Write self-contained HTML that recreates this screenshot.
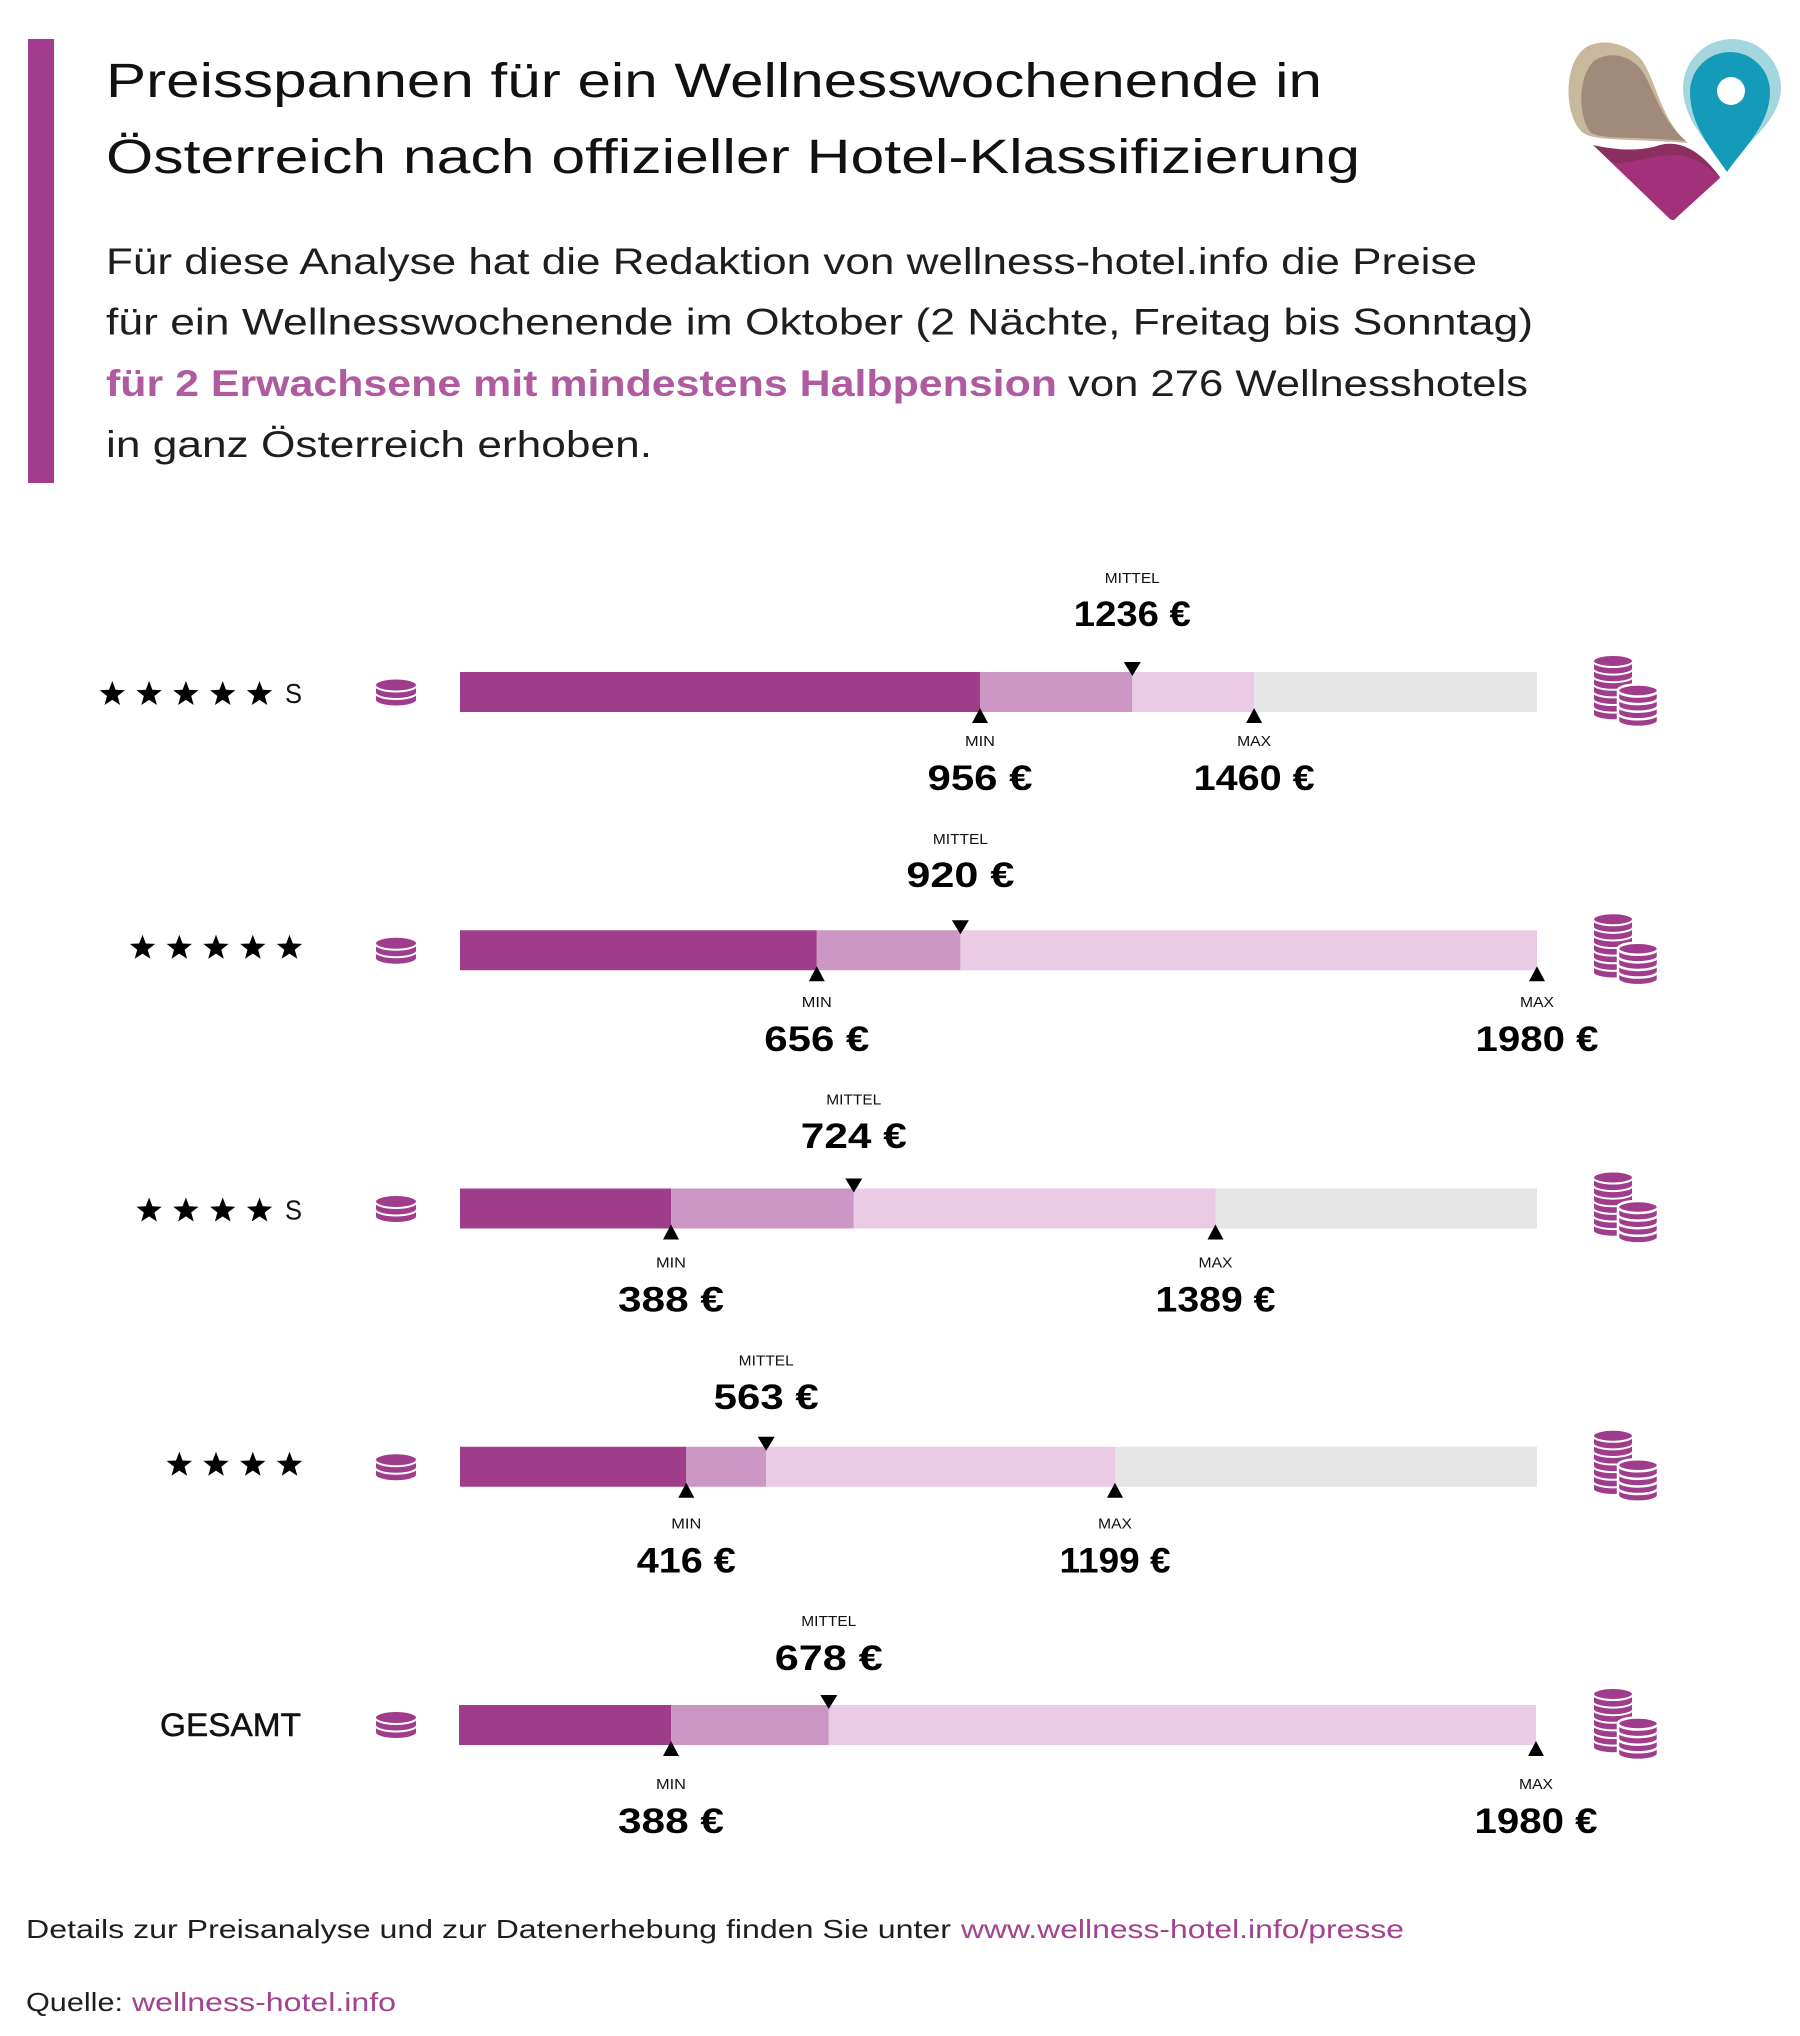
<!DOCTYPE html>
<html>
<head>
<meta charset="utf-8">
<style>
html,body{margin:0;padding:0;background:#fff;}
svg{display:block;}
text{font-family:"Liberation Sans",sans-serif;}
</style>
</head>
<body>
<svg width="1800" height="2036" viewBox="0 0 1800 2036" xmlns="http://www.w3.org/2000/svg">
<defs>
  <polygon id="star" points="0,-13.3 3.3,-4.5 12.65,-4.1 5.3,1.75 7.8,10.75 0,5.6 -7.8,10.75 -5.3,1.75 -12.65,-4.1 -3.3,-4.5" fill="#000"/>
  <g id="coin1" fill="#a03c8c" stroke="#fff" stroke-width="2">
    <path d="M0,14 L0,21.5 A21 6.5 0 0 0 42,21.5 L42,14 A21 6.5 0 0 0 0,14 Z"/>
    <path d="M0,6.5 L0,14 A21 6.5 0 0 0 42,14 L42,6.5 A21 6.5 0 0 0 0,6.5 Z"/>
    <ellipse cx="21" cy="6.5" rx="21" ry="6.5"/>
  </g>
  <g id="coins" fill="#a03c8c" stroke="#fff" stroke-width="2">
    <path d="M0,51.6 L0,59.2 A20 6 0 0 0 40,59.2 L40,51.6 A20 6 0 0 0 0,51.6 Z"/>
    <path d="M0,44 L0,51.6 A20 6 0 0 0 40,51.6 L40,44 A20 6 0 0 0 0,44 Z"/>
    <path d="M0,36.4 L0,44 A20 6 0 0 0 40,44 L40,36.4 A20 6 0 0 0 0,36.4 Z"/>
    <path d="M0,28.8 L0,36.4 A20 6 0 0 0 40,36.4 L40,28.8 A20 6 0 0 0 0,28.8 Z"/>
    <path d="M0,21.2 L0,28.8 A20 6 0 0 0 40,28.8 L40,21.2 A20 6 0 0 0 0,21.2 Z"/>
    <path d="M0,13.6 L0,21.2 A20 6 0 0 0 40,21.2 L40,13.6 A20 6 0 0 0 0,13.6 Z"/>
    <path d="M0,6 L0,13.6 A20 6 0 0 0 40,13.6 L40,6 A20 6 0 0 0 0,6 Z"/>
    <ellipse cx="20" cy="6" rx="20" ry="6"/>
    <g stroke-width="2.5">
    <path d="M25,58.3 L25,65.9 A20 6 0 0 0 65,65.9 L65,58.3 A20 6 0 0 0 25,58.3 Z"/>
    <path d="M25,50.7 L25,58.3 A20 6 0 0 0 65,58.3 L65,50.7 A20 6 0 0 0 25,50.7 Z"/>
    <path d="M25,43.1 L25,50.7 A20 6 0 0 0 65,50.7 L65,43.1 A20 6 0 0 0 25,43.1 Z"/>
    <path d="M25,35.5 L25,43.1 A20 6 0 0 0 65,43.1 L65,35.5 A20 6 0 0 0 25,35.5 Z"/>
    <ellipse cx="45" cy="35.5" rx="20" ry="6"/>
    </g>
  </g>
</defs>

<rect x="0" y="0" width="1800" height="2036" fill="#fff"/>

<!-- side bar -->
<rect x="28" y="39" width="26" height="444" fill="#a23c8c"/>

<!-- title -->
<text x="106" y="97" font-size="48" fill="#111" textLength="1216" lengthAdjust="spacingAndGlyphs">Preisspannen für ein Wellnesswochenende in</text>
<text x="106" y="173" font-size="48" fill="#111" textLength="1254" lengthAdjust="spacingAndGlyphs">Österreich nach offizieller Hotel-Klassifizierung</text>

<!-- paragraph -->
<text x="106" y="274" font-size="37" fill="#1e1e1e" textLength="1371" lengthAdjust="spacingAndGlyphs">Für diese Analyse hat die Redaktion von wellness-hotel.info die Preise</text>
<text x="106" y="334.5" font-size="37" fill="#1e1e1e" textLength="1427" lengthAdjust="spacingAndGlyphs">für ein Wellnesswochenende im Oktober (2 Nächte, Freitag bis Sonntag)</text>
<text x="106" y="396" font-size="37" font-weight="bold" fill="#b05aa0" textLength="951" lengthAdjust="spacingAndGlyphs">für 2 Erwachsene mit mindestens Halbpension</text>
<text x="1068" y="396" font-size="37" fill="#1e1e1e" textLength="460" lengthAdjust="spacingAndGlyphs">von 276 Wellnesshotels</text>
<text x="106" y="457" font-size="37" fill="#1e1e1e" textLength="546" lengthAdjust="spacingAndGlyphs">in ganz Österreich erhoben.</text>

<!-- logo -->
<g>
  <path d="M1688,143 C1660,120 1655,75 1640,58 C1625,42 1600,38 1585,48 C1565,62 1563,110 1580,130 C1590,142 1620,138 1688,143 Z" fill="#c9b99c"/>
  <path d="M1686,141 C1658,118 1652,80 1638,66 C1625,53 1605,52 1593,62 C1578,78 1578,115 1590,132 C1600,140 1630,136 1686,141 Z" fill="#a28a7a"/>
  <path d="M1593,145 C1615,150 1640,152 1660,145 C1680,140 1700,150 1720,177 L1676,218 Q1673,222 1669,218 Z" fill="#8a2f5e"/>
  <path d="M1612,163 C1630,165 1650,155 1675,155 C1695,155 1710,168 1720,178 L1676,218 Q1673,222 1669,218 Z" fill="#a3317a"/>
  <path d="M1725,168 C1710,145 1683,120 1683,88 A49,49 0 0 1 1781,88 C1781,120 1745,145 1725,168 Z" fill="#a4d6dd"/>
  <path d="M1727,172 C1712,150 1690,125 1690,92 A40,40 0 0 1 1770,92 C1770,125 1742,150 1727,172 Z" fill="#139bb9"/>
  <circle cx="1731" cy="91" r="14" fill="#fff"/>
</g>

<!-- ROW 1: 5 stars S, T=672 -->
<g>
  <use href="#star" x="112.3" y="694.3"/><use href="#star" x="149.1" y="694.3"/><use href="#star" x="185.9" y="694.3"/><use href="#star" x="222.7" y="694.3"/><use href="#star" x="259.5" y="694.3"/>
  <text x="285" y="703" font-size="28" fill="#111" textLength="17" lengthAdjust="spacingAndGlyphs">S</text>
  <use href="#coin1" x="375" y="678.5"/>
  <rect x="460" y="672" width="520" height="40" fill="#a03d8a"/>
  <rect x="980" y="672" width="152.3" height="40" fill="#cc96c5"/>
  <rect x="1132.3" y="672" width="121.8" height="40" fill="#ebcbe3"/>
  <rect x="1254.1" y="672" width="282.9" height="40" fill="#e6e6e6"/>
  <polygon points="1123.8,662 1140.8,662 1132.3,676" fill="#000"/>
  <polygon points="980,708 972,723 988,723" fill="#000"/>
  <polygon points="1254.1,708 1246.1,723 1262.1,723" fill="#000"/>
  <text x="1132.3" y="583" font-size="15" fill="#111" text-anchor="middle" textLength="55" lengthAdjust="spacingAndGlyphs">MITTEL</text>
  <text x="1132.3" y="626" font-size="35" font-weight="bold" fill="#000" text-anchor="middle" textLength="117" lengthAdjust="spacingAndGlyphs">1236 €</text>
  <text x="980" y="746" font-size="15" fill="#111" text-anchor="middle" textLength="30" lengthAdjust="spacingAndGlyphs">MIN</text>
  <text x="980" y="790" font-size="35" font-weight="bold" fill="#000" text-anchor="middle" textLength="105" lengthAdjust="spacingAndGlyphs">956 €</text>
  <text x="1254.1" y="746" font-size="15" fill="#111" text-anchor="middle" textLength="34" lengthAdjust="spacingAndGlyphs">MAX</text>
  <text x="1254.1" y="790" font-size="35" font-weight="bold" fill="#000" text-anchor="middle" textLength="121" lengthAdjust="spacingAndGlyphs">1460 €</text>
  <use href="#coins" x="1593" y="655"/>
</g>

<!-- ROW 2: 5 stars, T=930.25 -->
<g>
  <use href="#star" x="142.5" y="948"/><use href="#star" x="179.3" y="948"/><use href="#star" x="216" y="948"/><use href="#star" x="252.8" y="948"/><use href="#star" x="289.5" y="948"/>
  <use href="#coin1" x="375" y="936.75"/>
  <rect x="460" y="930.25" width="356.8" height="40" fill="#a03d8a"/>
  <rect x="816.8" y="930.25" width="143.6" height="40" fill="#cc96c5"/>
  <rect x="960.4" y="930.25" width="576.6" height="40" fill="#ebcbe3"/>
  <polygon points="951.9,920.25 968.9,920.25 960.4,934.25" fill="#000"/>
  <polygon points="816.8,966.25 808.8,981.25 824.8,981.25" fill="#000"/>
  <polygon points="1537,966.25 1529,981.25 1545,981.25" fill="#000"/>
  <text x="960.4" y="843.8" font-size="15" fill="#111" text-anchor="middle" textLength="55" lengthAdjust="spacingAndGlyphs">MITTEL</text>
  <text x="960.4" y="887" font-size="35" font-weight="bold" fill="#000" text-anchor="middle" textLength="108" lengthAdjust="spacingAndGlyphs">920 €</text>
  <text x="816.8" y="1006.75" font-size="15" fill="#111" text-anchor="middle" textLength="30" lengthAdjust="spacingAndGlyphs">MIN</text>
  <text x="816.8" y="1050.75" font-size="35" font-weight="bold" fill="#000" text-anchor="middle" textLength="105" lengthAdjust="spacingAndGlyphs">656 €</text>
  <text x="1537" y="1006.75" font-size="15" fill="#111" text-anchor="middle" textLength="34" lengthAdjust="spacingAndGlyphs">MAX</text>
  <text x="1537" y="1050.75" font-size="35" font-weight="bold" fill="#000" text-anchor="middle" textLength="123" lengthAdjust="spacingAndGlyphs">1980 €</text>
  <use href="#coins" x="1593" y="913.25"/>
</g>

<!-- ROW 3: 4 stars S, T=1188.5 -->
<g>
  <use href="#star" x="149.1" y="1210.8"/><use href="#star" x="185.9" y="1210.8"/><use href="#star" x="222.7" y="1210.8"/><use href="#star" x="259.5" y="1210.8"/>
  <text x="285" y="1219.5" font-size="28" fill="#111" textLength="17" lengthAdjust="spacingAndGlyphs">S</text>
  <use href="#coin1" x="375" y="1195"/>
  <rect x="460" y="1188.5" width="211" height="40" fill="#a03d8a"/>
  <rect x="671" y="1188.5" width="182.8" height="40" fill="#cc96c5"/>
  <rect x="853.8" y="1188.5" width="361.7" height="40" fill="#ebcbe3"/>
  <rect x="1215.5" y="1188.5" width="321.5" height="40" fill="#e6e6e6"/>
  <polygon points="845.3,1178.5 862.3,1178.5 853.8,1192.5" fill="#000"/>
  <polygon points="671,1224.5 663,1239.5 679,1239.5" fill="#000"/>
  <polygon points="1215.5,1224.5 1207.5,1239.5 1223.5,1239.5" fill="#000"/>
  <text x="853.8" y="1104.6" font-size="15" fill="#111" text-anchor="middle" textLength="55" lengthAdjust="spacingAndGlyphs">MITTEL</text>
  <text x="853.8" y="1148" font-size="35" font-weight="bold" fill="#000" text-anchor="middle" textLength="106" lengthAdjust="spacingAndGlyphs">724 €</text>
  <text x="671" y="1267.5" font-size="15" fill="#111" text-anchor="middle" textLength="30" lengthAdjust="spacingAndGlyphs">MIN</text>
  <text x="671" y="1311.5" font-size="35" font-weight="bold" fill="#000" text-anchor="middle" textLength="106" lengthAdjust="spacingAndGlyphs">388 €</text>
  <text x="1215.5" y="1267.5" font-size="15" fill="#111" text-anchor="middle" textLength="34" lengthAdjust="spacingAndGlyphs">MAX</text>
  <text x="1215.5" y="1311.5" font-size="35" font-weight="bold" fill="#000" text-anchor="middle" textLength="120" lengthAdjust="spacingAndGlyphs">1389 €</text>
  <use href="#coins" x="1593" y="1171.5"/>
</g>

<!-- ROW 4: 4 stars, T=1446.75 -->
<g>
  <use href="#star" x="179.3" y="1465"/><use href="#star" x="216" y="1465"/><use href="#star" x="252.8" y="1465"/><use href="#star" x="289.5" y="1465"/>
  <use href="#coin1" x="375" y="1453.25"/>
  <rect x="460" y="1446.75" width="226.3" height="40" fill="#a03d8a"/>
  <rect x="686.3" y="1446.75" width="79.9" height="40" fill="#cc96c5"/>
  <rect x="766.2" y="1446.75" width="348.8" height="40" fill="#ebcbe3"/>
  <rect x="1115" y="1446.75" width="422" height="40" fill="#e6e6e6"/>
  <polygon points="757.7,1436.75 774.7,1436.75 766.2,1450.75" fill="#000"/>
  <polygon points="686.3,1482.75 678.3,1497.75 694.3,1497.75" fill="#000"/>
  <polygon points="1115,1482.75 1107,1497.75 1123,1497.75" fill="#000"/>
  <text x="766.2" y="1365.4" font-size="15" fill="#111" text-anchor="middle" textLength="55" lengthAdjust="spacingAndGlyphs">MITTEL</text>
  <text x="766.2" y="1409" font-size="35" font-weight="bold" fill="#000" text-anchor="middle" textLength="105" lengthAdjust="spacingAndGlyphs">563 €</text>
  <text x="686.3" y="1528.25" font-size="15" fill="#111" text-anchor="middle" textLength="30" lengthAdjust="spacingAndGlyphs">MIN</text>
  <text x="686.3" y="1572.25" font-size="35" font-weight="bold" fill="#000" text-anchor="middle" textLength="99" lengthAdjust="spacingAndGlyphs">416 €</text>
  <text x="1115" y="1528.25" font-size="15" fill="#111" text-anchor="middle" textLength="34" lengthAdjust="spacingAndGlyphs">MAX</text>
  <text x="1115" y="1572.25" font-size="35" font-weight="bold" fill="#000" text-anchor="middle" textLength="111" lengthAdjust="spacingAndGlyphs">1199 €</text>
  <use href="#coins" x="1593" y="1429.75"/>
</g>

<!-- ROW 5: GESAMT, T=1705 -->
<g>
  <text x="301" y="1736" font-size="32" fill="#111" stroke="#111" stroke-width="0.5" text-anchor="end" textLength="141" lengthAdjust="spacingAndGlyphs">GESAMT</text>
  <use href="#coin1" x="375" y="1711"/>
  <rect x="459" y="1705" width="212" height="40" fill="#a03d8a"/>
  <rect x="671" y="1705" width="157.8" height="40" fill="#cc96c5"/>
  <rect x="828.8" y="1705" width="707.2" height="40" fill="#ebcbe3"/>
  <polygon points="820.3,1695 837.3,1695 828.8,1709" fill="#000"/>
  <polygon points="671,1741 663,1756 679,1756" fill="#000"/>
  <polygon points="1536,1741 1528,1756 1544,1756" fill="#000"/>
  <text x="828.8" y="1626.2" font-size="15" fill="#111" text-anchor="middle" textLength="55" lengthAdjust="spacingAndGlyphs">MITTEL</text>
  <text x="828.8" y="1670" font-size="35" font-weight="bold" fill="#000" text-anchor="middle" textLength="108" lengthAdjust="spacingAndGlyphs">678 €</text>
  <text x="671" y="1789" font-size="15" fill="#111" text-anchor="middle" textLength="30" lengthAdjust="spacingAndGlyphs">MIN</text>
  <text x="671" y="1833" font-size="35" font-weight="bold" fill="#000" text-anchor="middle" textLength="106" lengthAdjust="spacingAndGlyphs">388 €</text>
  <text x="1536" y="1789" font-size="15" fill="#111" text-anchor="middle" textLength="34" lengthAdjust="spacingAndGlyphs">MAX</text>
  <text x="1536" y="1833" font-size="35" font-weight="bold" fill="#000" text-anchor="middle" textLength="123" lengthAdjust="spacingAndGlyphs">1980 €</text>
  <use href="#coins" x="1593" y="1688"/>
</g>

<!-- footer -->
<text x="26" y="1938" font-size="26" fill="#1e1e1e" textLength="925" lengthAdjust="spacingAndGlyphs">Details zur Preisanalyse und zur Datenerhebung finden Sie unter</text>
<text x="961" y="1938" font-size="26" fill="#a3428f" textLength="443" lengthAdjust="spacingAndGlyphs">www.wellness-hotel.info/presse</text>
<text x="26" y="2011" font-size="26" fill="#1e1e1e" textLength="97" lengthAdjust="spacingAndGlyphs">Quelle:</text>
<text x="132" y="2011" font-size="26" fill="#a3428f" textLength="264" lengthAdjust="spacingAndGlyphs">wellness-hotel.info</text>
</svg>
</body>
</html>
